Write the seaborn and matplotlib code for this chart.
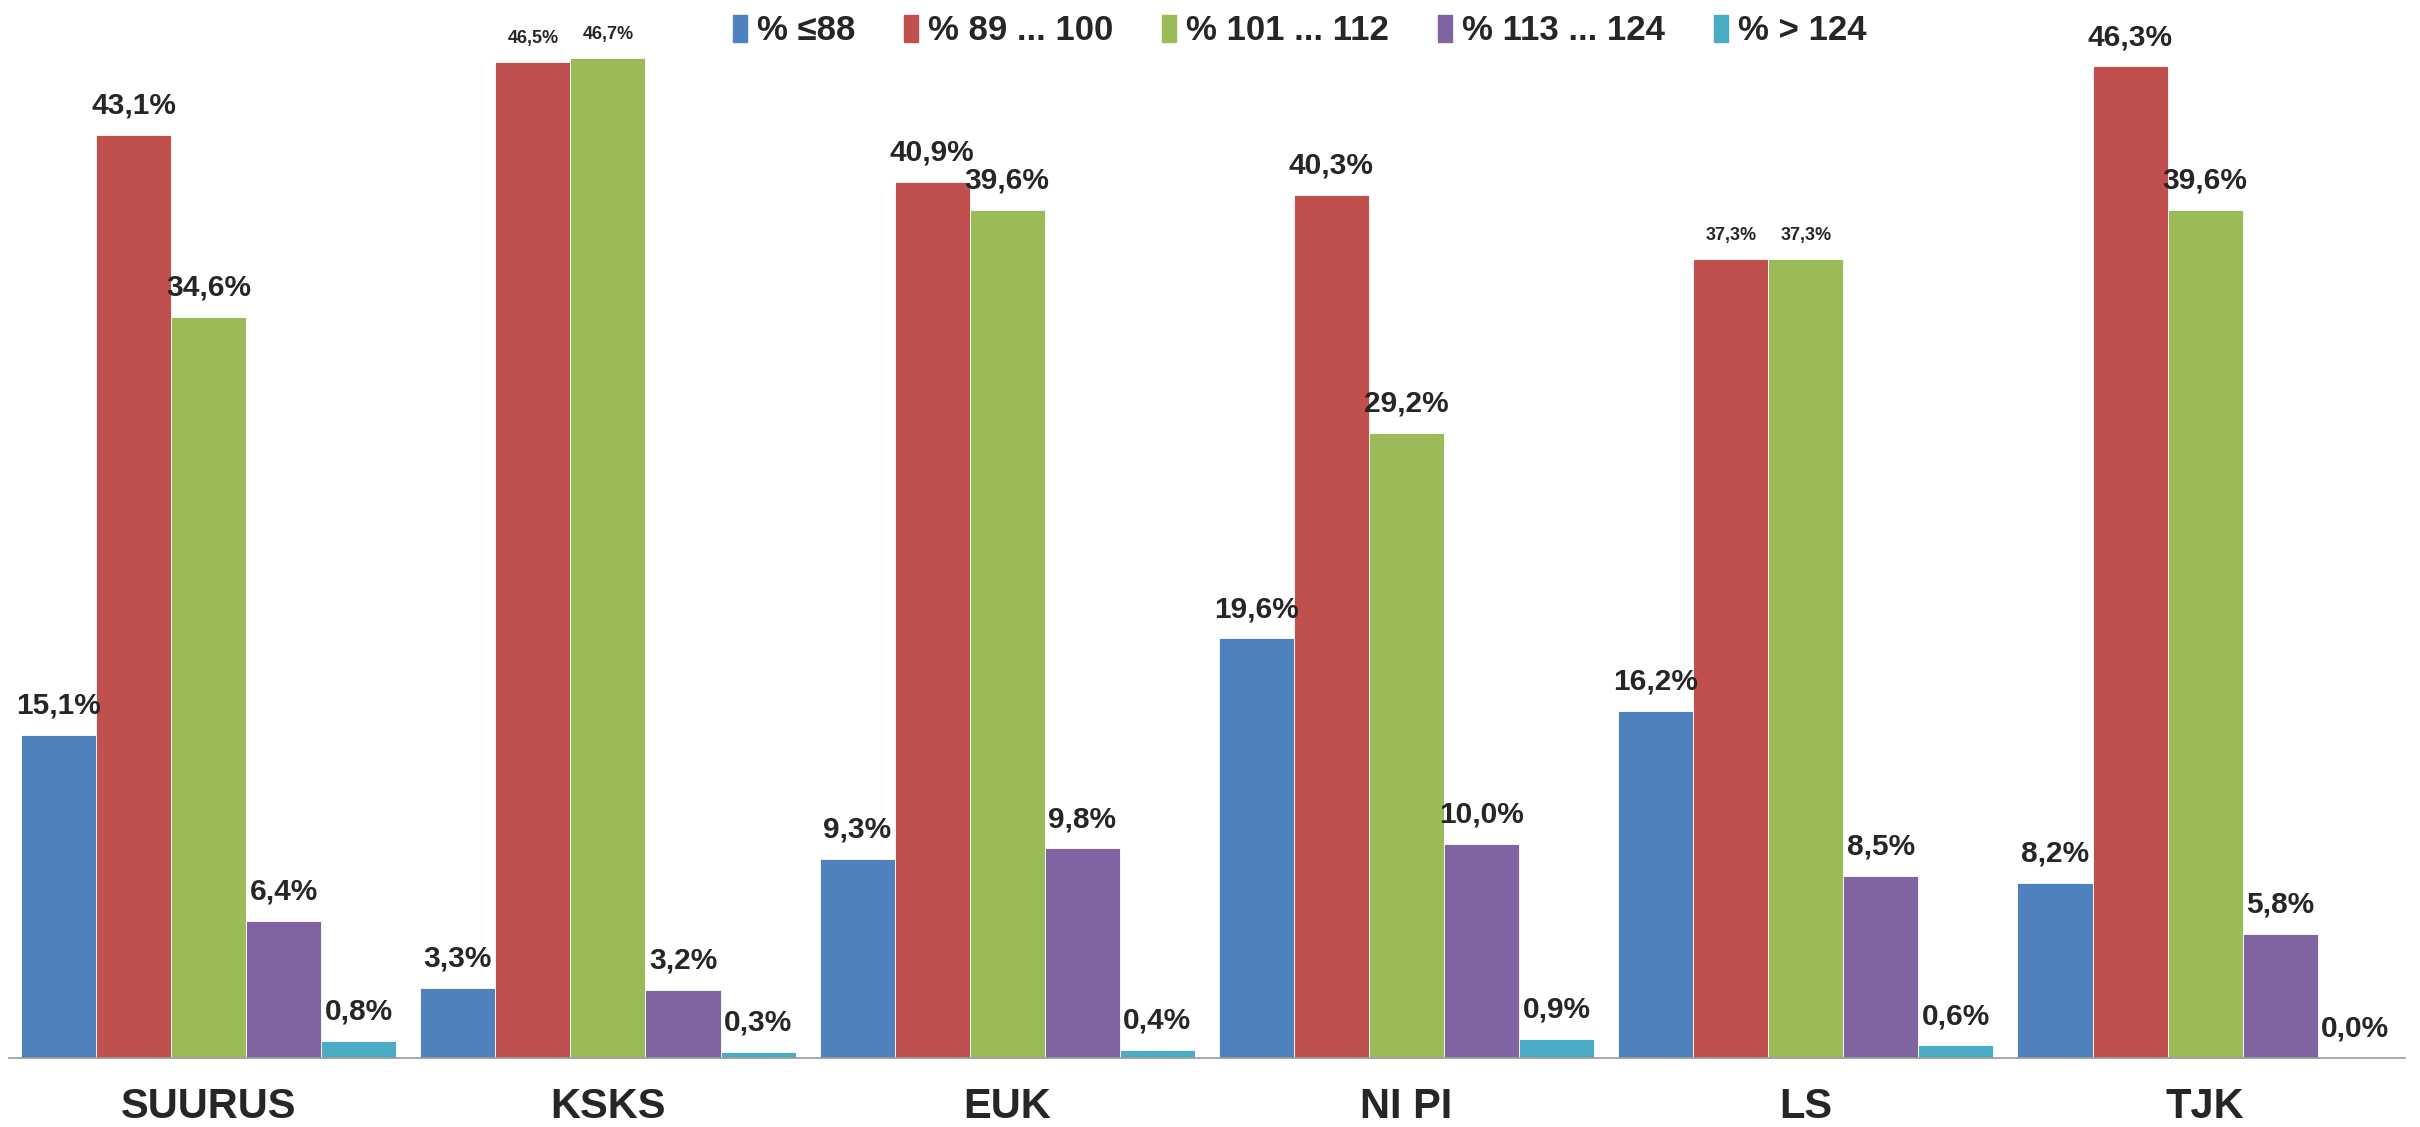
import pandas as pd
import seaborn as sns
import matplotlib.pyplot as plt

# Data
groups = ['SUURUS', 'KSKS', 'EUK', 'NI PI', 'LS', 'TJK']
series = ['% ≤88', '% 89 ... 100', '% 101 ... 112', '% 113 ... 124', '% > 124']
le88 = [15.1, 3.3, 9.3, 19.6, 16.2, 8.2]
s89_100 = [43.1, 46.5, 40.9, 40.3, 37.3, 46.3]
s101_112 = [34.6, 46.7, 39.6, 29.2, 37.3, 39.6]
s113_124 = [6.4, 3.2, 9.8, 10.0, 8.5, 5.8]
gt124 = [0.8, 0.3, 0.4, 0.9, 0.6, 0.0]
colors = ['#4F81BD', '#C0504D', '#9BBB59', '#8064A2', '#4BACC6']

# labels drawn with a small font in the original
small_labels = {('KSKS', '% 89 ... 100'), ('KSKS', '% 101 ... 112'),
                ('LS', '% 89 ... 100'), ('LS', '% 101 ... 112')}

rows = []
for name, vals in zip(series, [le88, s89_100, s101_112, s113_124, gt124]):
    for g, v in zip(groups, vals):
        rows.append({'group': g, 'series': name, 'value': v})
df = pd.DataFrame(rows)

sns.set_style('white')
plt.rcParams['font.family'] = ['Liberation Sans', 'DejaVu Sans']
plt.rcParams['font.weight'] = 'bold'

fig = plt.figure(figsize=(24.2, 11.27), dpi=100)
ax = fig.add_axes([0.0037, 0.061, 0.99, 0.939])

sns.barplot(data=df, x='group', y='value', hue='series', order=groups, hue_order=series,
            palette=colors, width=0.94, saturation=1, edgecolor='white', linewidth=0.6,
            ax=ax, legend=False)

# value labels above the bars
for name, cont in zip(series, ax.containers):
    for g, bar in zip(groups, cont):
        h = bar.get_height()
        small = (g, name) in small_labels
        ax.annotate(f'{h:.1f}'.replace('.', ',') + '%',
                    (bar.get_x() + bar.get_width() / 2, h),
                    xytext=(0, 11), textcoords='offset points',
                    ha='center', va='bottom', fontweight='bold',
                    fontsize=13 if small else 21.5)

ax.set_xlim(-0.5, len(groups) - 0.5)
ax.set_ylim(0, 49.4)
ax.set_xlabel('')
ax.set_ylabel('')
ax.set_yticks([])
ax.tick_params(axis='x', which='major', length=0, labelsize=30, pad=21)
ax.set_xticks([i - 0.5 for i in range(len(groups) + 1)], minor=True)
ax.tick_params(axis='x', which='minor', length=11, width=1.2, color='#999999', direction='out')
for s in ['top', 'right', 'left']:
    ax.spines[s].set_visible(False)
ax.spines['bottom'].set_color('#999999')
ax.spines['bottom'].set_linewidth(1.2)

handles = [plt.Rectangle((0, 0), 1, 1, color=c) for c in colors]
fig.legend(handles, series, loc='upper center', bbox_to_anchor=(0.537, 1.015), ncol=5,
           frameon=False, fontsize=25, handlelength=0.4, handleheight=0.8,
           handletextpad=0.3, columnspacing=1.4)

fig.savefig('out.png', dpi=100)
